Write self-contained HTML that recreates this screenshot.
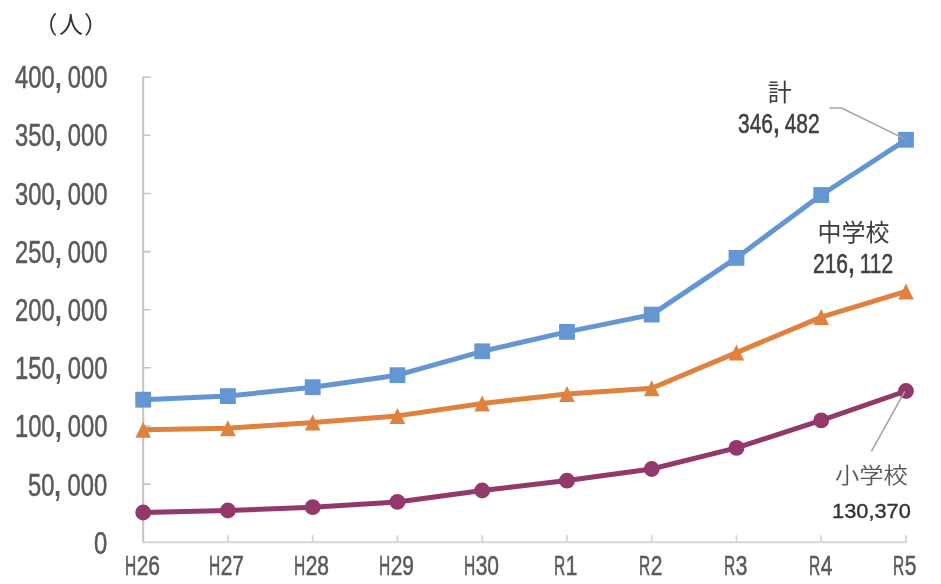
<!DOCTYPE html>
<html lang="ja"><head><meta charset="utf-8"><title>chart</title>
<style>
html,body{margin:0;padding:0;background:#fff}
#c{position:relative;width:941px;height:584px;overflow:hidden;background:#fff;font-family:"Liberation Sans","Noto Sans CJK JP",sans-serif}
.t{position:absolute;white-space:nowrap;line-height:0;transform-origin:0 0;transform:scaleX(0.766);color:#5a5a5a;height:0;-webkit-text-stroke:0.55px currentColor}
.t.y{font-size:31.0px}
.t.x{font-size:27.4px}
.t.d{font-size:27.4px;color:#404040}
.c{display:inline-block;width:0.556em;font-weight:bold;transform:scale(1.08);transform-origin:0 0.33em;-webkit-text-stroke:0;position:relative;left:0.0em}
.L{display:inline-block;transform:scaleX(.74);transform-origin:0 50%;margin-right:-0.166em;line-height:0}
.j{position:absolute;white-space:nowrap;line-height:0;height:0;font-size:24px;color:#3c3c3c;font-weight:400;font-family:"Liberation Sans","Noto Sans CJK JP",sans-serif}
.j.l{font-weight:350;color:#595959;font-size:23.6px;transform-origin:36px 0;transform:scale(1.03,0.93)}
.j.u{color:#303030;font-weight:400}
.cal{position:absolute;white-space:nowrap;line-height:0;height:0;font-size:20.3px;color:#333;transform-origin:0 0;transform:scaleX(1.075);-webkit-text-stroke:0.35px currentColor}
</style></head>
<body><div id="c">
<svg width="941" height="584" viewBox="0 0 941 584" style="position:absolute;left:0;top:0">
<path d="M143.2 76.4V542.2" stroke="#c4c4c4" stroke-width="2" fill="none"/>
<path d="M142.2 542.2H906.7" stroke="#d6d6d6" stroke-width="2" fill="none"/>
<path d="M143.2 484.1h7.5M143.2 426.0h7.5M143.2 367.8h7.5M143.2 309.7h7.5M143.2 251.6h7.5M143.2 193.5h7.5M143.2 135.3h7.5M143.2 77.2h7.5" stroke="#c4c4c4" stroke-width="1.6" fill="none"/>
<path d="M227.9 542.2v-7M312.7 542.2v-7M397.4 542.2v-7M482.2 542.2v-7M567.0 542.2v-7M651.7 542.2v-7M736.5 542.2v-7M821.2 542.2v-7M906.0 542.2v-7" stroke="#d6d6d6" stroke-width="1.8" fill="none"/>
<polyline points="143.2,399.7 227.9,396.1 312.7,387.2 397.4,375.2 482.2,351.3 567.0,331.9 651.7,314.6 736.5,257.9 821.2,195.0 906.0,139.8" fill="none" stroke="#6496d1" stroke-width="5.0" stroke-linejoin="round" stroke-linecap="round"/>
<rect x="135.3" y="391.8" width="15.8" height="15.8" fill="#6496d1"/>
<rect x="220.0" y="388.2" width="15.8" height="15.8" fill="#6496d1"/>
<rect x="304.8" y="379.3" width="15.8" height="15.8" fill="#6496d1"/>
<rect x="389.6" y="367.3" width="15.8" height="15.8" fill="#6496d1"/>
<rect x="474.3" y="343.4" width="15.8" height="15.8" fill="#6496d1"/>
<rect x="559.1" y="324.0" width="15.8" height="15.8" fill="#6496d1"/>
<rect x="643.8" y="306.7" width="15.8" height="15.8" fill="#6496d1"/>
<rect x="728.6" y="250.0" width="15.8" height="15.8" fill="#6496d1"/>
<rect x="813.3" y="187.1" width="15.8" height="15.8" fill="#6496d1"/>
<rect x="898.1" y="131.9" width="15.8" height="15.8" fill="#6496d1"/>
<polyline points="143.2,429.8 227.9,428.2 312.7,422.6 397.4,415.9 482.2,403.5 567.0,393.9 651.7,388.2 736.5,352.6 821.2,317.1 906.0,291.4" fill="none" stroke="#de823e" stroke-width="5.0" stroke-linejoin="round" stroke-linecap="round"/>
<path d="M143.2 421.8L151.0 437.8H135.4Z" fill="#de823e"/>
<path d="M227.9 420.2L235.8 436.2H220.1Z" fill="#de823e"/>
<path d="M312.7 414.6L320.5 430.6H304.9Z" fill="#de823e"/>
<path d="M397.4 407.9L405.2 423.9H389.6Z" fill="#de823e"/>
<path d="M482.2 395.5L490.0 411.5H474.4Z" fill="#de823e"/>
<path d="M567.0 385.9L574.8 401.9H559.2Z" fill="#de823e"/>
<path d="M651.7 380.2L659.5 396.2H643.9Z" fill="#de823e"/>
<path d="M736.5 344.6L744.2 360.6H728.7Z" fill="#de823e"/>
<path d="M821.2 309.1L829.0 325.1H813.4Z" fill="#de823e"/>
<path d="M906.0 283.4L913.8 299.4H898.2Z" fill="#de823e"/>
<polyline points="143.2,512.5 227.9,510.5 312.7,507.2 397.4,501.9 482.2,490.5 567.0,480.6 651.7,469.0 736.5,447.9 821.2,420.4 906.0,391.0" fill="none" stroke="#92386a" stroke-width="5.0" stroke-linejoin="round" stroke-linecap="round"/>
<circle cx="143.2" cy="512.5" r="7.9" fill="#92386a"/>
<circle cx="227.9" cy="510.5" r="7.9" fill="#92386a"/>
<circle cx="312.7" cy="507.2" r="7.9" fill="#92386a"/>
<circle cx="397.4" cy="501.9" r="7.9" fill="#92386a"/>
<circle cx="482.2" cy="490.5" r="7.9" fill="#92386a"/>
<circle cx="567.0" cy="480.6" r="7.9" fill="#92386a"/>
<circle cx="651.7" cy="469.0" r="7.9" fill="#92386a"/>
<circle cx="736.5" cy="447.9" r="7.9" fill="#92386a"/>
<circle cx="821.2" cy="420.4" r="7.9" fill="#92386a"/>
<circle cx="906.0" cy="391.0" r="7.9" fill="#92386a"/>
<path d="M829.6 108H841.6L905.1 139.1" stroke="#a3a3a3" stroke-width="1.6" fill="none"/>
<path d="M904.8 391.4L871.4 451.4" stroke="#a3a3a3" stroke-width="1.6" fill="none"/>
</svg>
<div class="t y" style="left:94.4px;top:543.8px">0</div>
<div class="t y" style="left:28.4px;top:485.6px">50<span class="c">,</span>000</div>
<div class="t y" style="left:15.2px;top:427.4px">100<span class="c">,</span>000</div>
<div class="t y" style="left:15.2px;top:369.1px">150<span class="c">,</span>000</div>
<div class="t y" style="left:15.2px;top:310.9px">200<span class="c">,</span>000</div>
<div class="t y" style="left:15.2px;top:252.7px">250<span class="c">,</span>000</div>
<div class="t y" style="left:15.2px;top:194.5px">300<span class="c">,</span>000</div>
<div class="t y" style="left:15.2px;top:136.2px">350<span class="c">,</span>000</div>
<div class="t y" style="left:15.2px;top:78.0px">400<span class="c">,</span>000</div>
<div class="t x" style="left:124.7px;top:565.6px"><span class="L">H</span>26</div>
<div class="t x" style="left:209.4px;top:565.6px"><span class="L">H</span>27</div>
<div class="t x" style="left:294.2px;top:565.6px"><span class="L">H</span>28</div>
<div class="t x" style="left:378.9px;top:565.6px"><span class="L">H</span>29</div>
<div class="t x" style="left:463.7px;top:565.6px"><span class="L">H</span>30</div>
<div class="t x" style="left:554.3px;top:565.6px"><span class="L">R</span>1</div>
<div class="t x" style="left:639.0px;top:565.6px"><span class="L">R</span>2</div>
<div class="t x" style="left:723.8px;top:565.6px"><span class="L">R</span>3</div>
<div class="t x" style="left:808.5px;top:565.6px"><span class="L">R</span>4</div>
<div class="t x" style="left:893.3px;top:565.6px"><span class="L">R</span>5</div>
<div class="t d" style="left:738.1px;top:124.0px">346<span class="c">,</span>482</div>
<div class="t d" style="left:813.1px;top:263.8px">216<span class="c">,</span>112</div>
<div class="j" style="left:767.8px;top:92.9px">計</div>
<div class="j" style="left:817.5px;top:232.7px">中学校</div>
<div class="j l" style="left:836.1px;top:476px">小学校</div>
<div class="j u" style="left:35px;top:24.5px"><span style="position:relative;left:-1.5px">（</span>人<span style="position:relative;left:1.1px">）</span></div>
<div class="cal" style="left:832px;top:511.3px">130,370</div>
</div></body></html>
